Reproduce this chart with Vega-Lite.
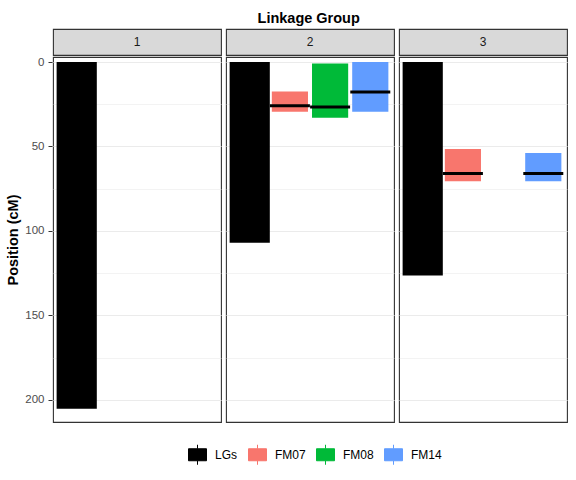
{
  "$schema": "https://vega.github.io/schema/vega-lite/v6.json",
  "padding": {"left": 5, "top": 10, "right": 8, "bottom": 5},
  "background": "white",
  "title": {"text": "Linkage Group", "fontSize": 14.5, "fontWeight": "bold", "color": "#000000", "anchor": "middle", "offset": 2, "dx": 22},
  "datasets": {
    "qtl": [
      {"lg": "1", "trait": "LGs", "start": 0, "end": 205.3, "peak": null},
      {"lg": "2", "trait": "LGs", "start": 0, "end": 107.0, "peak": null},
      {"lg": "2", "trait": "FM07", "start": 17.5, "end": 29.4, "peak": 25.9},
      {"lg": "2", "trait": "FM08", "start": 0.8, "end": 33.0, "peak": 26.6},
      {"lg": "2", "trait": "FM14", "start": 0, "end": 29.4, "peak": 17.7},
      {"lg": "3", "trait": "LGs", "start": 0, "end": 126.4, "peak": null},
      {"lg": "3", "trait": "FM07", "start": 51.5, "end": 70.6, "peak": 66.0},
      {"lg": "3", "trait": "FM14", "start": 53.9, "end": 70.6, "peak": 66.0}
    ]
  },
  "vconcat": [
    {
      "data": {"name": "qtl"},
      "transform": [{"aggregate": [{"op": "count", "as": "n"}], "groupby": ["lg"]}],
      "facet": {"column": {"field": "lg", "type": "nominal", "header": null}},
      "spacing": 3,
      "spec": {
        "width": 168,
        "height": 26,
        "view": {"fill": "#D9D9D9", "stroke": "#333333", "strokeWidth": 1.1},
        "mark": {"type": "text", "fontSize": 12, "color": "#1A1A1A"},
        "encoding": {
          "text": {"field": "lg", "type": "nominal"},
          "y": {"datum": 0, "type": "quantitative",
                "scale": {"domain": [-1, 1], "nice": false, "zero": false},
                "axis": {"values": [0], "labelExpr": "'200'", "labelColor": "transparent", "labelFontSize": 11.5,
                         "labelPadding": 4, "tickSize": 4, "tickColor": "transparent", "grid": false, "domain": false,
                         "title": "Position (cM)", "titleColor": "transparent", "titleFontSize": 14.5,
                         "titleFontWeight": "bold", "titlePadding": 4, "titleLimit": 16}}
        }
      }
    },
    {
      "data": {"name": "qtl"},
      "facet": {"column": {"field": "lg", "type": "nominal", "header": null}},
      "spacing": 3,
      "spec": {
        "width": 168,
        "height": 365,
        "view": {"fill": "white", "stroke": "#333333", "strokeWidth": 1.1},
        "encoding": {
          "x": {"field": "trait", "type": "nominal", "sort": ["LGs", "FM07", "FM08", "FM14"],
                "scale": {"domain": ["LGs", "FM07", "FM08", "FM14"], "paddingInner": 0, "paddingOuter": 0.09},
                "axis": null}
        },
        "layer": [
          {
            "transform": [{"filter": "datum.trait == 'LGs'"}],
            "mark": {"type": "bar", "width": {"band": 1}, "strokeWidth": 0},
            "encoding": {
              "y": {"field": "start", "type": "quantitative", "title": "Position (cM)",
                    "scale": {"domain": [-3, 213.2], "reverse": true, "nice": false, "zero": false},
                    "axis": {
                      "values": [0, 25, 50, 75, 100, 125, 150, 175, 200],
                      "labelExpr": "datum.value % 50 == 0 ? datum.label : ''",
                      "domain": false,
                      "tickSize": 4,
                      "tickColor": {"condition": {"test": "datum.value % 50 == 0", "value": "#333333"}, "value": "transparent"},
                      "gridColor": "#EBEBEB",
                      "gridWidth": {"condition": {"test": "datum.value % 50 == 0", "value": 1.1}, "value": 0.6},
                      "labelColor": "#4D4D4D",
                      "labelFontSize": 11.5,
                      "labelPadding": 4,
                      "titleFontSize": 14.5,
                      "titleFontWeight": "bold",
                      "titleColor": "#000000",
                      "titlePadding": 4
                    }},
              "y2": {"field": "end"},
              "color": {"field": "trait", "type": "nominal",
                        "scale": {"domain": ["LGs", "FM07", "FM08", "FM14"], "range": ["#000000", "#F8766D", "#00BA38", "#619CFF"]},
                        "legend": {
                          "title": null, "orient": "none", "direction": "horizontal",
                          "legendX": 134, "legendY": 415,
                          "symbolType": "M-0.9,-0.6H0.9V0.6H-0.9Z M0,-1V-0.6 M0,0.6V1",
                          "symbolSize": 400, "symbolStrokeWidth": 1,
                          "labelFontSize": 12, "labelColor": "#000000", "labelOffset": 7,
                          "columnPadding": 8,
                          "encode": {"symbols": {"update": {"strokeWidth": {"value": 1}}}}
                        }},
              "stroke": {"field": "trait", "type": "nominal",
                         "scale": {"domain": ["LGs", "FM07", "FM08", "FM14"], "range": ["#000000", "#F8766D", "#00BA38", "#619CFF"]},
                         "legend": {
                          "title": null, "orient": "none", "direction": "horizontal",
                          "legendX": 134, "legendY": 415,
                          "symbolType": "M-0.9,-0.6H0.9V0.6H-0.9Z M0,-1V-0.6 M0,0.6V1",
                          "symbolSize": 400, "symbolStrokeWidth": 1,
                          "labelFontSize": 12, "labelColor": "#000000", "labelOffset": 7,
                          "columnPadding": 8,
                          "encode": {"symbols": {"update": {"strokeWidth": {"value": 1}}}}
                        }}
            }
          },
          {
            "transform": [{"filter": "datum.trait != 'LGs'"}],
            "mark": {"type": "bar", "width": {"band": 0.9}, "strokeWidth": 0},
            "encoding": {
              "y": {"field": "start", "type": "quantitative"},
              "y2": {"field": "end"},
              "color": {"field": "trait", "type": "nominal"},
              "stroke": {"field": "trait", "type": "nominal"}
            }
          },
          {
            "transform": [{"filter": "isValid(datum.peak)"}],
            "mark": {"type": "tick", "orient": "horizontal", "thickness": 3, "size": 40, "color": "#000000", "opacity": 1},
            "encoding": {
              "y": {"field": "peak", "type": "quantitative"}
            }
          }
        ]
      }
    }
  ],
  "spacing": 0,
  "config": {
    "font": "Liberation Sans",
    "view": {"stroke": "#333333"}
  }
}
